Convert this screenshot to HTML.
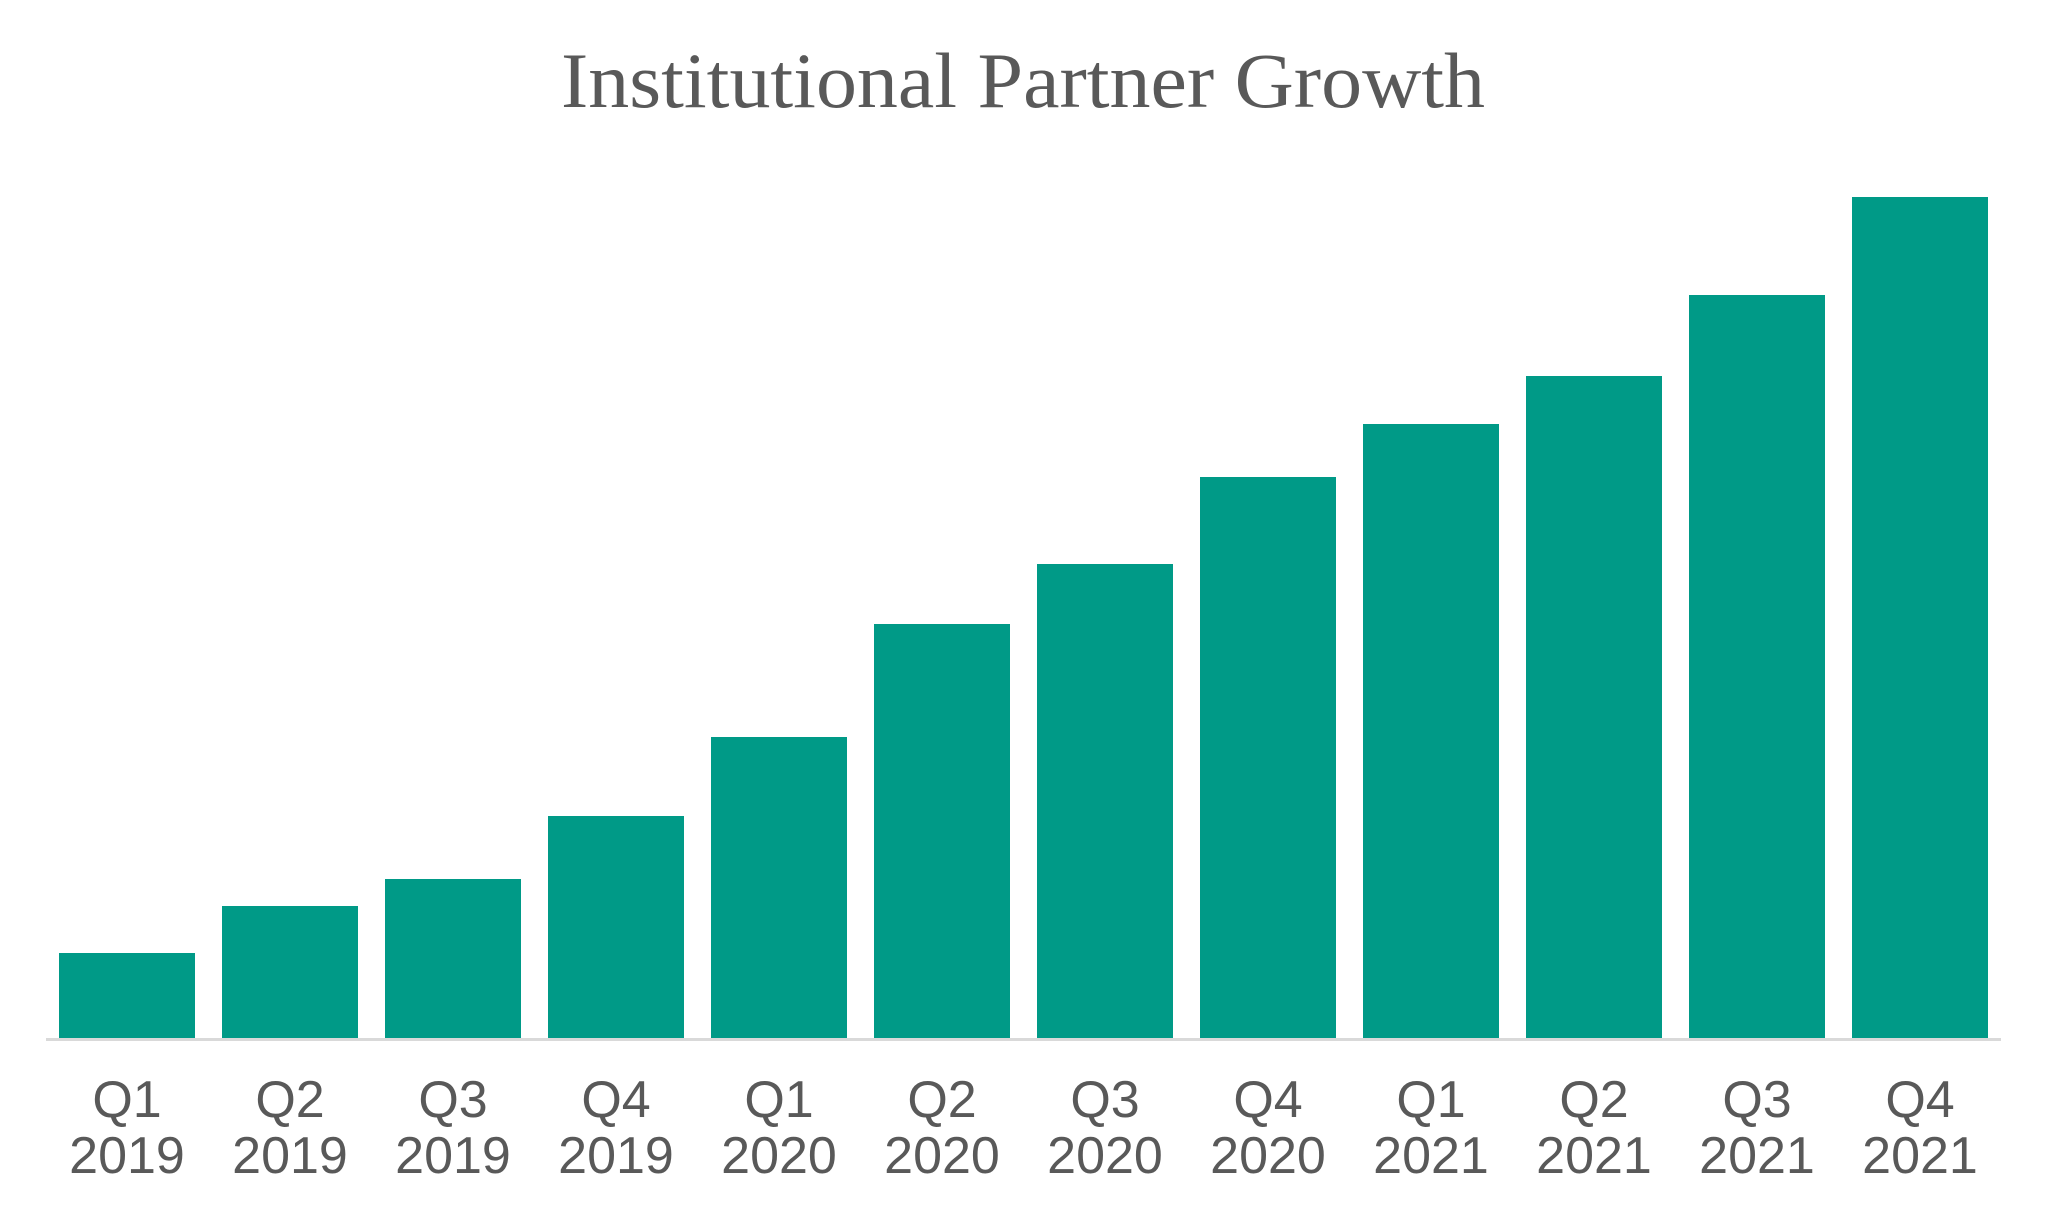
<!DOCTYPE html>
<html><head><meta charset="utf-8"><style>
html,body{margin:0;padding:0;background:#fff;width:2048px;height:1216px;overflow:hidden}
</style></head><body>
<svg width="2048" height="1216" xmlns="http://www.w3.org/2000/svg">
<rect width="2048" height="1216" fill="#fff"/>
<text x="1023" y="107" text-anchor="middle" font-family="Liberation Serif, serif" font-size="78" fill="#595959" textLength="924" lengthAdjust="spacingAndGlyphs">Institutional Partner Growth</text>
<g fill="#009a87">
<rect x="59" y="953" width="136" height="85"/>
<rect x="222" y="906" width="136" height="132"/>
<rect x="385" y="879" width="136" height="159"/>
<rect x="548" y="816" width="136" height="222"/>
<rect x="711" y="737" width="136" height="301"/>
<rect x="874" y="624" width="136" height="414"/>
<rect x="1037" y="564" width="136" height="474"/>
<rect x="1200" y="477" width="136" height="561"/>
<rect x="1363" y="424" width="136" height="614"/>
<rect x="1526" y="376" width="136" height="662"/>
<rect x="1689" y="295" width="136" height="743"/>
<rect x="1852" y="197" width="136" height="841"/>
</g>
<rect x="46" y="1038" width="1955" height="3" fill="#d9d9d9"/>
<g font-family="Liberation Sans, sans-serif" font-size="52" fill="#595959" text-anchor="middle">
<text x="127" y="1117">Q1</text><text x="127" y="1173">2019</text>
<text x="290" y="1117">Q2</text><text x="290" y="1173">2019</text>
<text x="453" y="1117">Q3</text><text x="453" y="1173">2019</text>
<text x="616" y="1117">Q4</text><text x="616" y="1173">2019</text>
<text x="779" y="1117">Q1</text><text x="779" y="1173">2020</text>
<text x="942" y="1117">Q2</text><text x="942" y="1173">2020</text>
<text x="1105" y="1117">Q3</text><text x="1105" y="1173">2020</text>
<text x="1268" y="1117">Q4</text><text x="1268" y="1173">2020</text>
<text x="1431" y="1117">Q1</text><text x="1431" y="1173">2021</text>
<text x="1594" y="1117">Q2</text><text x="1594" y="1173">2021</text>
<text x="1757" y="1117">Q3</text><text x="1757" y="1173">2021</text>
<text x="1920" y="1117">Q4</text><text x="1920" y="1173">2021</text>
</g>
</svg>
</body></html>
